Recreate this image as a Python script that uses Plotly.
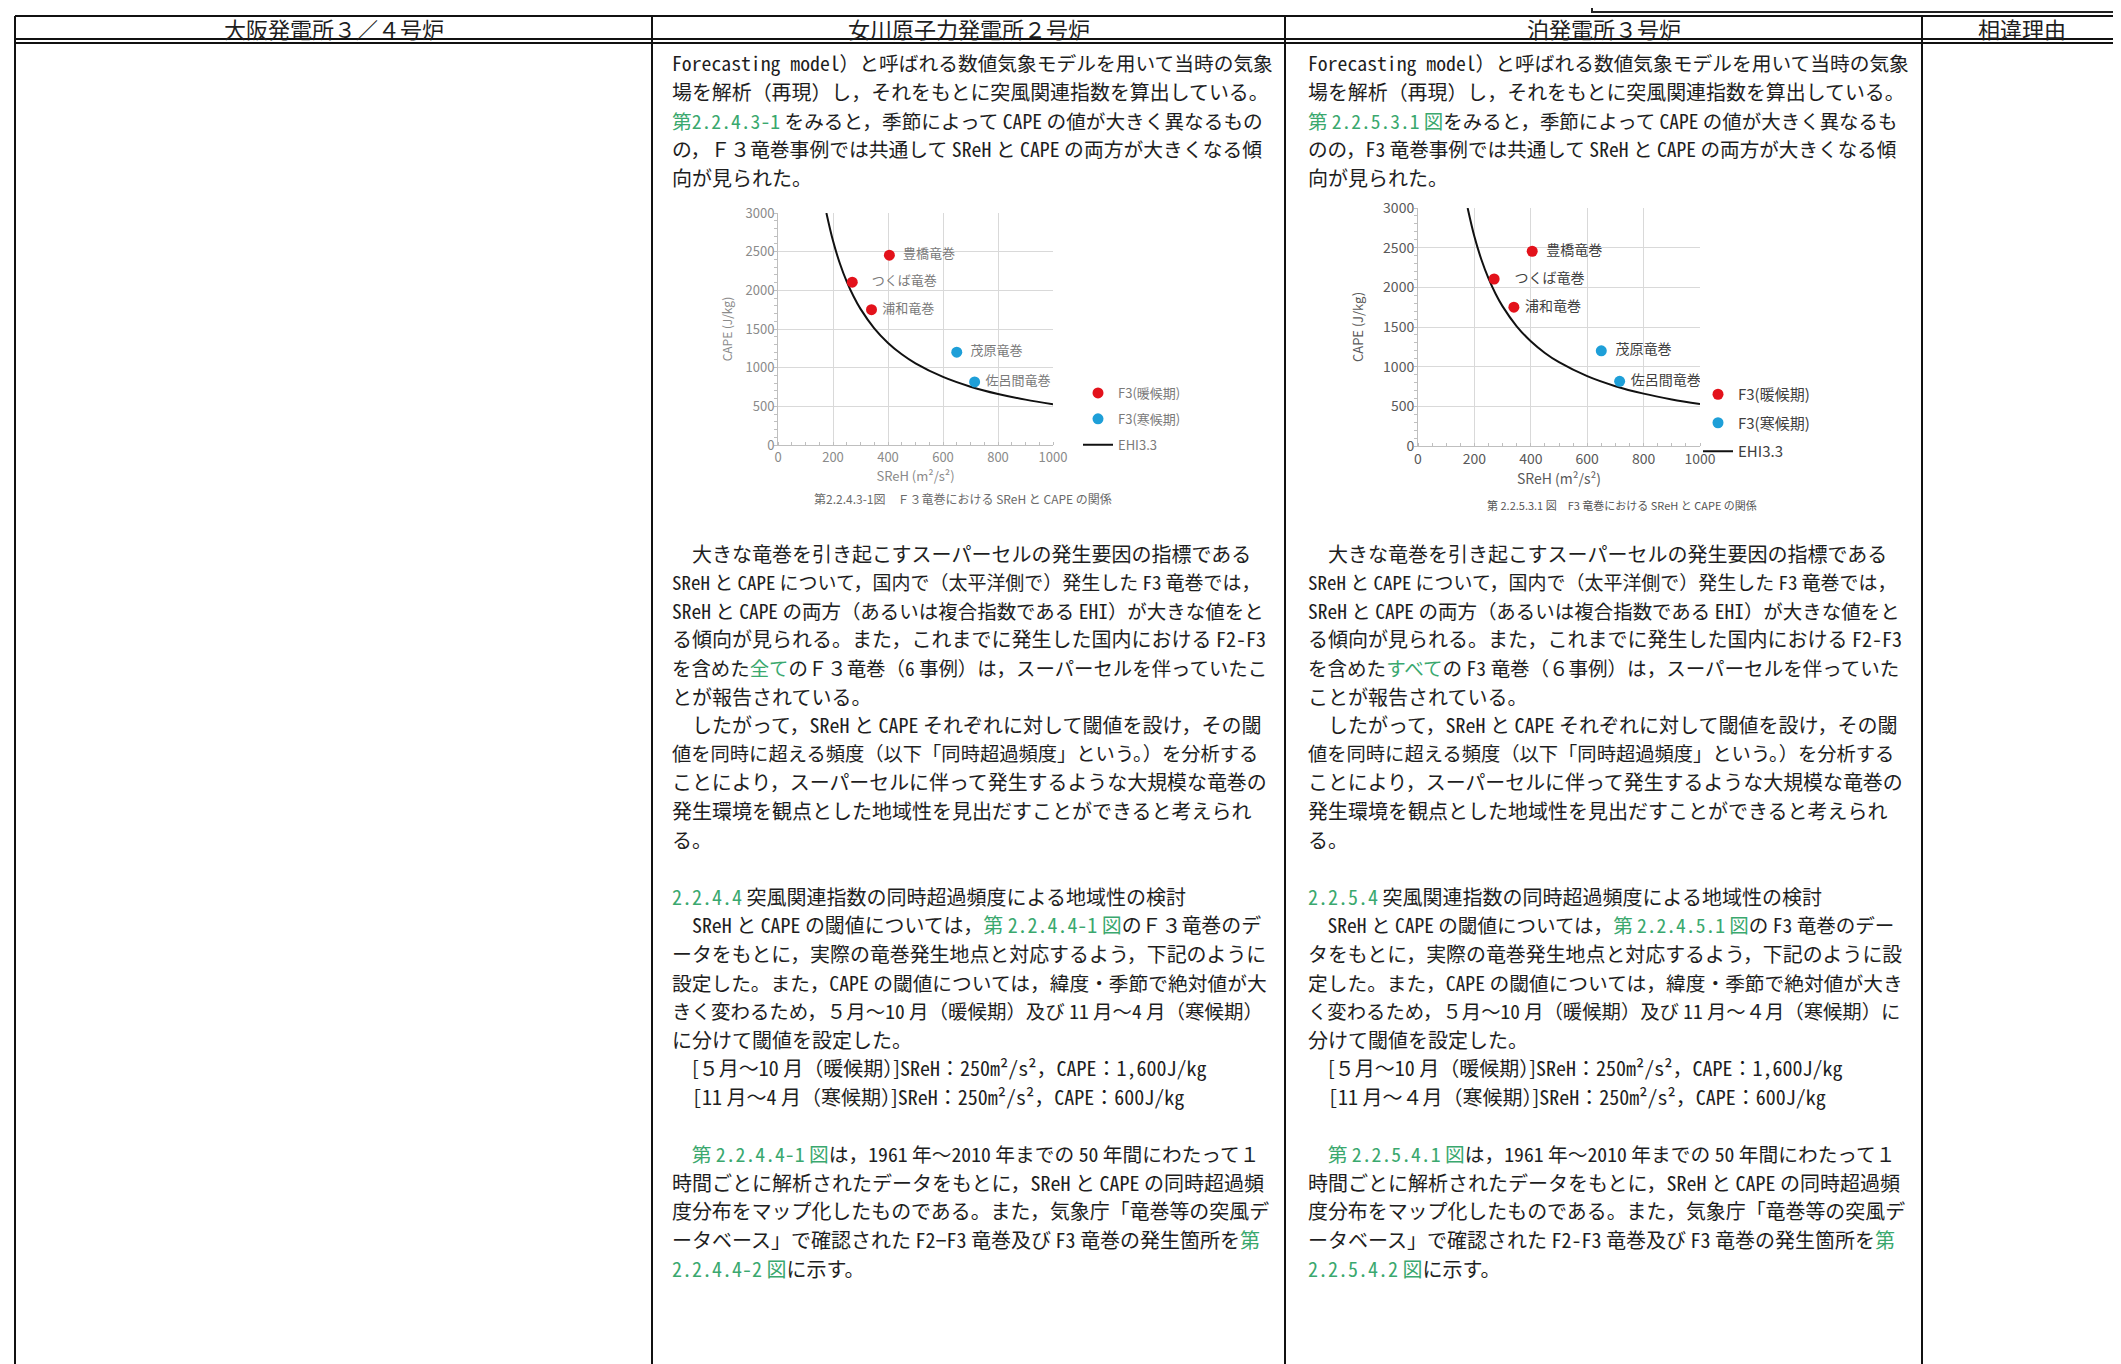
import re
import plotly.graph_objects as go

W, H = 2121, 1364
FONT = "Noto Sans CJK JP"
GREEN = "#3aa86e"
INK = "#1e1e1e"

# ---- chart data ----
sreh_warm = [405, 270, 340]
cape_warm = [2455, 2105, 1750]
name_warm = ["豊橋竜巻", "つくば竜巻", "浦和竜巻"]
sreh_cold = [650, 715]
cape_cold = [1200, 815]
name_cold = ["茂原竜巻", "佐呂間竜巻"]
sreh_ehi = [176, 200, 225, 250, 275, 300, 350, 400, 450, 500, 600, 700, 800, 900, 1000]
cape_ehi = [3000, 2640, 2347, 2112, 1920, 1760, 1509, 1320, 1173, 1056, 880, 754, 660, 587, 528]
x_ticks = [0, 200, 400, 600, 800, 1000]
y_ticks = [0, 500, 1000, 1500, 2000, 2500, 3000]
legend_names = ["F3(暖候期)", "F3(寒候期)", "EHI3.3"]

headers = ["大阪発電所３／４号炉", "女川原子力発電所２号炉", "泊発電所３号炉", "相違理由"]

# {...} marks the green (cross reference) parts of a line
onagawa_top = [
    "Forecasting model）と呼ばれる数値気象モデルを用いて当時の気象",
    "場を解析（再現）し，それをもとに突風関連指数を算出している。",
    "{第2.2.4.3-1} をみると，季節によって CAPE の値が大きく異なるもの",
    "の，Ｆ３竜巻事例では共通して SReH と CAPE の両方が大きくなる傾",
    "向が見られた。",
]
onagawa_body = [
    (0, "　大きな竜巻を引き起こすスーパーセルの発生要因の指標である"),
    (1, "SReH と CAPE について，国内で（太平洋側で）発生した F3 竜巻では，"),
    (2, "SReH と CAPE の両方（あるいは複合指数である EHI）が大きな値をと"),
    (3, "る傾向が見られる。また，これまでに発生した国内における F2-F3"),
    (4, "を含めた{全て}のＦ３竜巻（6 事例）は，スーパーセルを伴っていたこ"),
    (5, "とが報告されている。"),
    (6, "　したがって，SReH と CAPE それぞれに対して閾値を設け，その閾"),
    (7, "値を同時に超える頻度（以下「同時超過頻度」という。）を分析する"),
    (8, "ことにより，スーパーセルに伴って発生するような大規模な竜巻の"),
    (9, "発生環境を観点とした地域性を見出だすことができると考えられ"),
    (10, "る。"),
    (12, "{2.2.4.4} 突風関連指数の同時超過頻度による地域性の検討"),
    (13, "　SReH と CAPE の閾値については，{第 2.2.4.4-1 図}のＦ３竜巻のデ"),
    (14, "ータをもとに，実際の竜巻発生地点と対応するよう，下記のように"),
    (15, "設定した。また，CAPE の閾値については，緯度・季節で絶対値が大"),
    (16, "きく変わるため，５月～10 月（暖候期）及び 11 月～4 月（寒候期）"),
    (17, "に分けて閾値を設定した。"),
    (18, "　[５月～10 月（暖候期）]SReH：250m²/s²，CAPE：1,600J/kg"),
    (19, "　[11 月～4 月（寒候期）]SReH：250m²/s²，CAPE：600J/kg"),
    (21, "　{第 2.2.4.4-1 図}は，1961 年～2010 年までの 50 年間にわたって１"),
    (22, "時間ごとに解析されたデータをもとに，SReH と CAPE の同時超過頻"),
    (23, "度分布をマップ化したものである。また，気象庁「竜巻等の突風デ"),
    (24, "ータベース」で確認された F2−F3 竜巻及び F3 竜巻の発生箇所を{第}"),
    (25, "{2.2.4.4-2 図}に示す。"),
]

tomari_top = [
    "Forecasting model）と呼ばれる数値気象モデルを用いて当時の気象",
    "場を解析（再現）し，それをもとに突風関連指数を算出している。",
    "{第 2.2.5.3.1 図}をみると，季節によって CAPE の値が大きく異なるも",
    "のの，F3 竜巻事例では共通して SReH と CAPE の両方が大きくなる傾",
    "向が見られた。",
]
tomari_body = [
    (0, "　大きな竜巻を引き起こすスーパーセルの発生要因の指標である"),
    (1, "SReH と CAPE について，国内で（太平洋側で）発生した F3 竜巻では，"),
    (2, "SReH と CAPE の両方（あるいは複合指数である EHI）が大きな値をと"),
    (3, "る傾向が見られる。また，これまでに発生した国内における F2-F3"),
    (4, "を含めた{すべて}の F3 竜巻（６事例）は，スーパーセルを伴っていた"),
    (5, "ことが報告されている。"),
    (6, "　したがって，SReH と CAPE それぞれに対して閾値を設け，その閾"),
    (7, "値を同時に超える頻度（以下「同時超過頻度」という。）を分析する"),
    (8, "ことにより，スーパーセルに伴って発生するような大規模な竜巻の"),
    (9, "発生環境を観点とした地域性を見出だすことができると考えられ"),
    (10, "る。"),
    (12, "{2.2.5.4} 突風関連指数の同時超過頻度による地域性の検討"),
    (13, "　SReH と CAPE の閾値については，{第 2.2.4.5.1 図}の F3 竜巻のデー"),
    (14, "タをもとに，実際の竜巻発生地点と対応するよう，下記のように設"),
    (15, "定した。また，CAPE の閾値については，緯度・季節で絶対値が大き"),
    (16, "く変わるため，５月～10 月（暖候期）及び 11 月～４月（寒候期）に"),
    (17, "分けて閾値を設定した。"),
    (18, "　[５月～10 月（暖候期）]SReH：250m²/s²，CAPE：1,600J/kg"),
    (19, "　[11 月～４月（寒候期）]SReH：250m²/s²，CAPE：600J/kg"),
    (21, "　{第 2.2.5.4.1 図}は，1961 年～2010 年までの 50 年間にわたって１"),
    (22, "時間ごとに解析されたデータをもとに，SReH と CAPE の同時超過頻"),
    (23, "度分布をマップ化したものである。また，気象庁「竜巻等の突風デ"),
    (24, "ータベース」で確認された F2-F3 竜巻及び F3 竜巻の発生箇所を{第}"),
    (25, "{2.2.5.4.2 図}に示す。"),
]

caption1 = "第2.2.4.3-1図　Ｆ３竜巻における SReH と CAPE の関係"
caption2 = "第 2.2.5.3.1 図　F3 竜巻における SReH と CAPE の関係"

# latin runs get the half-width glyphs of the CJK font (like the Mincho original)
LAT = re.compile(r"[A-Za-z0-9\[][A-Za-z0-9 .,\-/()²−:\[\]]*[A-Za-z0-9²\])]|[A-Za-z0-9]")
HW = "<span style='font-feature-settings:\"hwid\"'>"


def hw(s):
    return LAT.sub(lambda m: HW + m.group(0) + "</span>", s)


def render(line):
    out = ""
    for p in re.split(r"(\{[^}]*\})", line):
        if p.startswith("{"):
            out += f'<span style="color:{GREEN}">' + hw(p[1:-1]) + "</span>"
        else:
            out += hw(p)
    return out


def em_width(line):
    # rough width in em: half-width latin 0.5, spaces ~0.3, everything else 1
    w = 0
    for ch in line.replace("{", "").replace("}", ""):
        if ch == " ":
            w += 0.3
        elif ord(ch) < 128 or ch in "²−":
            w += 0.5
        else:
            w += 1
    return w


def px(x):
    return x / W


def py(y):
    return 1 - y / H


fig = go.Figure()

# two scatter charts, same data, slightly different rendering
charts = [
    dict(xa="x", ya="y", leg="legend", tcol="#8a8a8a", fs=13, lfs=13, lcol="#7a7a7a"),
    dict(xa="x2", ya="y2", leg="legend2", tcol="#595959", fs=14, lfs=14, lcol="#404040"),
]
warm_pad = ["  ", "    ", " "]
cold_pad = ["  ", " "]
for c in charts:
    fig.add_trace(go.Scatter(
        x=sreh_ehi, y=cape_ehi, mode="lines", line=dict(color="#111111", width=2, shape="spline"),
        name=legend_names[2], xaxis=c["xa"], yaxis=c["ya"], legend=c["leg"],
        legendgroup="c", legendrank=3, hoverinfo="skip"))
    fig.add_trace(go.Scatter(
        x=sreh_warm, y=cape_warm, mode="markers+text",
        text=[p + n for p, n in zip(warm_pad, name_warm)],
        textposition="middle right", textfont=dict(family=FONT, size=c["lfs"], color=c["lcol"]),
        marker=dict(color="#e3121b", size=11), name=legend_names[0],
        xaxis=c["xa"], yaxis=c["ya"], legend=c["leg"], legendgroup="a", legendrank=1))
    fig.add_trace(go.Scatter(
        x=sreh_cold, y=cape_cold, mode="markers+text",
        text=[p + n for p, n in zip(cold_pad, name_cold)],
        textposition="middle right", textfont=dict(family=FONT, size=c["lfs"], color=c["lcol"]),
        marker=dict(color="#1e9fd8", size=11), name=legend_names[1],
        xaxis=c["xa"], yaxis=c["ya"], legend=c["leg"], legendgroup="b", legendrank=2))


def xax(dom, c):
    return dict(domain=[px(dom[0]), px(dom[1])], range=[0, 1000], tickvals=x_ticks,
                showgrid=True, gridcolor="#d9d9d9", gridwidth=1, zeroline=False,
                showline=True, linecolor="#bfbfbf", linewidth=1, ticks="",
                tickfont=dict(family=FONT, size=c["fs"], color=c["tcol"]),
                minor=dict(ticks="inside", ticklen=3, dtick=50, tickcolor="#bfbfbf", showgrid=False),
                title=dict(text="SReH (m²/s²)", font=dict(family=FONT, size=c["fs"], color=c["tcol"]),
                           standoff=6),
                automargin=False, fixedrange=True)


def yax(dom, c, anchor, standoff):
    return dict(domain=[py(dom[1]), py(dom[0])], range=[0, 3000], tickvals=y_ticks, anchor=anchor,
                showgrid=True, gridcolor="#d9d9d9", gridwidth=1, zeroline=False,
                showline=True, linecolor="#bfbfbf", linewidth=1, ticks="",
                tickfont=dict(family=FONT, size=c["fs"], color=c["tcol"]),
                minor=dict(ticks="outside", ticklen=3, dtick=100, tickcolor="#bfbfbf", showgrid=False),
                title=dict(text="CAPE (J/kg)", font=dict(family=FONT, size=c["fs"] - 1, color=c["tcol"]),
                           standoff=standoff),
                automargin=False, fixedrange=True)


ann = []

# header row
col_x = [7, 644, 1277, 1914, 2113]
for i, h in enumerate(headers):
    ann.append(dict(x=px((col_x[i] + col_x[i + 1]) / 2), y=py(20), text=render(h), showarrow=False,
                    xref="paper", yref="paper", xanchor="center", yanchor="middle",
                    font=dict(family=FONT, size=22, color=INK)))

# body text, lines shrunk a little where they would run past the column
LINE = 28.6
TEXT_W = 598
for left, top, body in [(662, onagawa_top, onagawa_body), (1298, tomari_top, tomari_body)]:
    rows = [(55 + i * LINE, t) for i, t in enumerate(top)] + [(545 + s * LINE, t) for s, t in body]
    for yy, t in rows:
        size = min(20, TEXT_W / em_width(t))
        ann.append(dict(x=px(left), y=py(yy), text=render(t), showarrow=False,
                        xref="paper", yref="paper", xanchor="left", yanchor="middle",
                        font=dict(family=FONT, size=size, color=INK)))

ann.append(dict(x=px(955), y=py(490), text=caption1, showarrow=False, xref="paper", yref="paper",
                xanchor="center", yanchor="middle", font=dict(family=FONT, size=12, color="#6a6a6a")))
ann.append(dict(x=px(1614), y=py(497), text=caption2, showarrow=False, xref="paper", yref="paper",
                xanchor="center", yanchor="middle", font=dict(family=FONT, size=11, color="#555555")))

# table lines
shapes = []
for x in col_x:
    shapes.append(dict(type="line", xref="paper", yref="paper", x0=px(x), x1=px(x), y0=py(8), y1=py(H + 5),
                       line=dict(color="#111111", width=2)))
for yy in [8, 31, 35]:
    shapes.append(dict(type="line", xref="paper", yref="paper", x0=px(col_x[0]), x1=px(col_x[-1]),
                       y0=py(yy), y1=py(yy), line=dict(color="#111111", width=2)))
# box at the top right edge, cut by the page
shapes.append(dict(type="rect", xref="paper", yref="paper", x0=px(1584), x1=px(2106), y0=py(4), y1=py(-20),
                   line=dict(color="#222222", width=2)))

leg_common = dict(xanchor="left", yanchor="top", bgcolor="rgba(0,0,0,0)", tracegroupgap=6,
                  itemwidth=30, traceorder="grouped")

fig.update_layout(
    width=W, height=H, template="none",
    margin=dict(l=0, r=0, t=0, b=0),
    paper_bgcolor="white", plot_bgcolor="white",
    font=dict(family=FONT, color=INK),
    xaxis=xax((770, 1045), charts[0]), yaxis=yax((205, 437), charts[0], "x", 10),
    xaxis2=xax((1410, 1692), charts[1]), yaxis2=yax((200, 438), charts[1], "x2", 16),
    legend=dict(x=px(1070), y=py(370), font=dict(family=FONT, size=13, color="#7a7a7a"), **leg_common),
    legend2=dict(x=px(1690), y=py(370), font=dict(family=FONT, size=15, color="#404040"), **leg_common),
    annotations=ann,
    shapes=shapes,
    showlegend=True,
)
fig.update_layout(xaxis2_anchor="y2", xaxis_anchor="y")

fig.write_html("out.html")
